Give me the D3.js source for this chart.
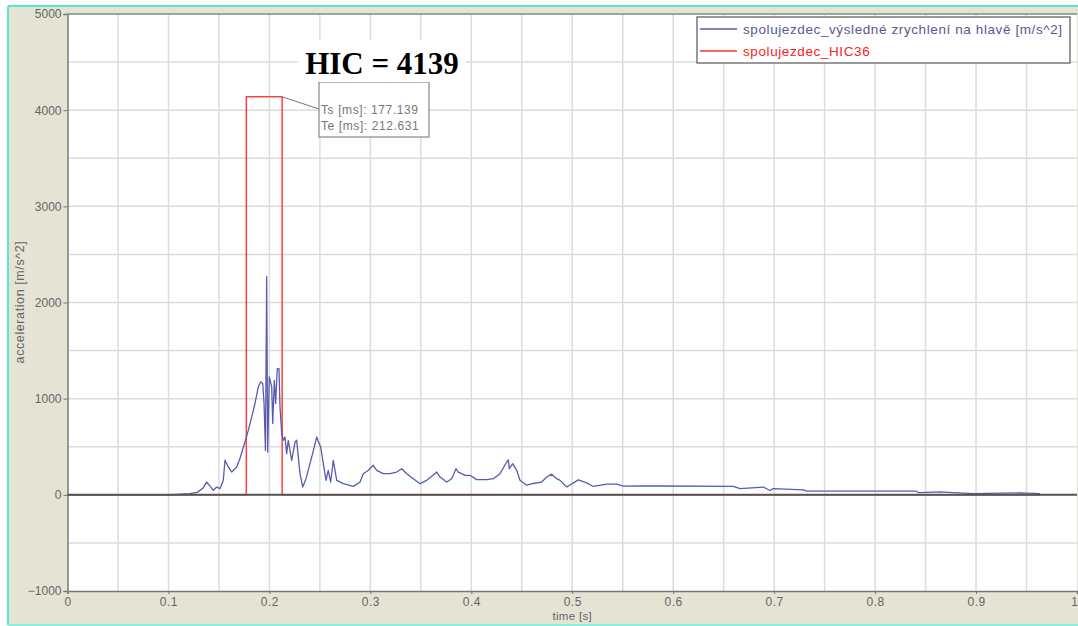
<!DOCTYPE html>
<html><head><meta charset="utf-8">
<script src="https://cdn.jsdelivr.net/npm/d3@7"></script>
<style>
html,body{margin:0;padding:0;background:#fff;}
svg{display:block;font-family:Arial,"Liberation Sans",sans-serif;}
</style></head>
<body>
<svg id="chart" width="1078" height="626"></svg>
<script>
// ---- data ----
const timeS = [0, 0.05, 0.1, 0.1213, 0.1283, 0.1342, 0.1379, 0.1412, 0.1444, 0.1478, 0.1511, 0.1543, 0.156, 0.1593, 0.1627, 0.1676, 0.1709, 0.1758, 0.1791, 0.1825, 0.1857, 0.189, 0.1914, 0.1934, 0.1947, 0.1961, 0.1973, 0.1983, 0.1999, 0.2023, 0.2033, 0.2049, 0.2062, 0.2078, 0.2095, 0.2105, 0.2122, 0.2138, 0.2154, 0.2171, 0.2187, 0.2221, 0.2254, 0.227, 0.2303, 0.233, 0.2363, 0.2419, 0.2469, 0.2482, 0.2508, 0.2534, 0.2561, 0.2583, 0.2607, 0.2633, 0.2667, 0.2732, 0.2831, 0.2898, 0.293, 0.298, 0.3029, 0.3063, 0.3128, 0.3195, 0.3261, 0.3311, 0.336, 0.3425, 0.3492, 0.3558, 0.364, 0.3657, 0.369, 0.3756, 0.3806, 0.3848, 0.3871, 0.3905, 0.3938, 0.3987, 0.4053, 0.4153, 0.4218, 0.4284, 0.4351, 0.4367, 0.4376, 0.441, 0.445, 0.4482, 0.4549, 0.4614, 0.4697, 0.4747, 0.4796, 0.4846, 0.4879, 0.4945, 0.506, 0.5143, 0.5209, 0.5341, 0.544, 0.5506, 0.5704, 0.5869, 0.6595, 0.6662, 0.6893, 0.6959, 0.6992, 0.7289, 0.7323, 0.8412, 0.8428, 0.8643, 0.8775, 0.8973, 0.9435, 0.9633];
const accel = [0, 0, 0, 12, 25, 70, 133, 90, 47, 81, 65, 150, 360, 290, 237, 290, 380, 550, 670, 810, 950, 1120, 1175, 1157, 950, 460, 2270, 445, 1226, 1122, 741, 1191, 949, 1313, 1313, 914, 637, 567, 601, 429, 567, 359, 549, 567, 220, 81, 168, 393, 601, 560, 497, 324, 151, 255, 133, 359, 151, 116, 88, 133, 220, 255, 307, 255, 220, 220, 237, 272, 220, 168, 116, 151, 220, 237, 185, 133, 168, 272, 237, 220, 203, 203, 158, 158, 168, 220, 341, 364, 272, 324, 255, 151, 100, 118, 133, 185, 215, 168, 150, 82, 155, 125, 87, 112, 112, 90, 92, 92, 87, 64, 81, 45, 64, 52, 38, 38, 23, 30, 23, 12, 20, 12];
const hicTime = [0, 0.177139, 0.177139, 0.212631, 0.212631, 0.9633];
const hicValue = [0, 0, 4139, 4139, 0, 0];
const xTicks = [0, 0.1, 0.2, 0.3, 0.4, 0.5, 0.6, 0.7, 0.8, 0.9, 1];
const xTickLabels = ["0", "0.1", "0.2", "0.3", "0.4", "0.5", "0.6", "0.7", "0.8", "0.9", "1"];
const yTicks = [-1000, 0, 1000, 2000, 3000, 4000, 5000];
const xGrid = [0.05,0.1,0.15,0.2,0.25,0.3,0.35,0.4,0.45,0.5,0.55,0.6,0.65,0.7,0.75,0.8,0.85,0.9,0.95];
const yGrid = [-500,0,500,1000,1500,2000,2500,3000,3500,4000,4500];
const seriesNames = ["spolujezdec_výsledné zrychlení na hlavě [m/s^2]", "spolujezdec_HIC36"];
const hicText = "HIC = 4139";
const annotLines = ["Ts [ms]: 177.139", "Te [ms]: 212.631"];

// ---- drawing ----
const svg = d3.select("#chart");
const L = 67.5, R = 1077, T = 14, B = 591;
const x = d3.scaleLinear().domain([0, 1]).range([L, R]);
const y = d3.scaleLinear().domain([-1000, 5000]).range([B, T]);

// panel background
svg.append("rect").attr("x", 8).attr("y", 6).attr("width", 1078).attr("height", 618)
  .attr("fill", "#e4e3d4").attr("stroke", "none");
svg.append("line").attr("x1", 8).attr("x2", 8).attr("y1", 6).attr("y2", 625).attr("stroke", "#5ee3d2").attr("stroke-width", 2);
svg.append("line").attr("x1", 8).attr("x2", 1078).attr("y1", 6).attr("y2", 6).attr("stroke", "#5ee3d2").attr("stroke-width", 2);
svg.append("line").attr("x1", 8).attr("x2", 1078).attr("y1", 625).attr("y2", 625).attr("stroke", "#8eeedd").attr("stroke-width", 2);

// plot area
svg.append("rect").attr("x", L).attr("y", T).attr("width", R - L).attr("height", B - T).attr("fill", "#fff");

// grid
const g = svg.append("g");
g.selectAll(".vg").data(xGrid).join("line")
  .attr("x1", d => x(d)).attr("x2", d => x(d)).attr("y1", T).attr("y2", B)
  .attr("stroke", "#dcdcdc").attr("stroke-width", 1.5);
g.selectAll(".hg").data(yGrid).join("line")
  .attr("x1", L).attr("x2", R).attr("y1", d => y(d)).attr("y2", d => y(d))
  .attr("stroke", "#dcdcdc").attr("stroke-width", 1.5);

// axes
const yAxis = d3.axisLeft(y).tickValues(yTicks).tickSize(4).tickPadding(2).tickFormat(d3.format("d"));
const yg = svg.append("g").attr("transform", `translate(${L},0)`).call(yAxis);
const xAxis = d3.axisBottom(x).tickValues(xTicks).tickSize(3).tickPadding(3).tickFormat((d, i) => xTickLabels[i]);
const xg = svg.append("g").attr("transform", `translate(0,${B})`).call(xAxis);
[yg, xg].forEach(a => {
  a.select(".domain").attr("stroke", "#777").attr("stroke-width", 1.5);
  a.selectAll(".tick line").attr("stroke", "#777");
  a.selectAll(".tick text").attr("fill", "#666").attr("font-size", 12).attr("font-family", "Arial, 'Liberation Sans', sans-serif");
});
xg.selectAll(".tick text").attr("letter-spacing", 0.5);
xg.selectAll(".tick text").filter(d => d === 1).attr("text-anchor", "end").attr("dx", 1);
// top border
svg.append("line").attr("x1", L).attr("x2", R).attr("y1", T).attr("y2", T).attr("stroke", "#888").attr("stroke-width", 1.5);

// axis titles
svg.append("text").attr("transform", `translate(24,302) rotate(-90)`)
  .attr("text-anchor", "middle").attr("font-size", 12.5).attr("letter-spacing", 0.6).attr("fill", "#666").text("acceleration [m/s^2]");
svg.append("text").attr("x", x(0.5)).attr("y", 620).attr("text-anchor", "middle")
  .attr("font-size", 11.5).attr("letter-spacing", 0.3).attr("fill", "#666").text("time [s]");

// HIC series
const hicPts = hicTime.map((t, i) => [t, hicValue[i]]);
svg.append("path").datum(hicPts)
  .attr("d", d3.line().x(d => x(d[0])).y(d => y(d[1])))
  .attr("fill", "none").attr("stroke", "#ff4040").attr("stroke-width", 1.5);

// acceleration series
const accPts = timeS.map((t, i) => [t, accel[i]]);
svg.append("path").datum(accPts)
  .attr("d", d3.line().x(d => x(d[0])).y(d => y(d[1])))
  .attr("fill", "none").attr("stroke", "#5a5ab0").attr("stroke-width", 1.3).attr("stroke-linejoin", "round");

// zero line
svg.append("line").attr("x1", L).attr("x2", R).attr("y1", y(0)).attr("y2", y(0))
  .attr("stroke", "#555").attr("stroke-width", 2);

// annotation box
const bx = 319, by = 82, bw = 110, bh = 55;
svg.append("line").attr("x1", x(hicTime[3])).attr("y1", y(hicValue[3]))
  .attr("x2", bx).attr("y2", 109).attr("stroke", "#777").attr("stroke-width", 1);
svg.append("rect").attr("x", bx).attr("y", by).attr("width", bw).attr("height", bh)
  .attr("fill", "#fff").attr("stroke", "#888").attr("stroke-width", 1.2);
svg.selectAll(".ann").data(annotLines).join("text")
  .attr("x", bx + 2).attr("y", (d, i) => 114 + i * 16)
  .attr("font-size", 12).attr("letter-spacing", 0.6).attr("fill", "#777").text(d => d);

// HIC label
svg.append("rect").attr("x", 298).attr("y", 40).attr("width", 168).attr("height", 42).attr("fill", "#fff");
svg.append("text").attr("x", 382).attr("y", 74).attr("text-anchor", "middle")
  .attr("font-family", "'Liberation Serif','Times New Roman',serif").attr("font-weight", "bold")
  .attr("font-size", 31).attr("fill", "#000").text(hicText);

// legend
const lg = svg.append("g");
lg.append("rect").attr("x", 697).attr("y", 17).attr("width", 373).attr("height", 46)
  .attr("fill", "#fff").attr("stroke", "#555").attr("stroke-width", 1.2);
const legColors = ["#5a5ab0", "#ff3030"];
const legText = ["#585890", "#ff2020"];
seriesNames.forEach((n, i) => {
  const yy = 29 + i * 22;
  lg.append("line").attr("x1", 700).attr("x2", 737).attr("y1", yy).attr("y2", yy)
    .attr("stroke", legColors[i]).attr("stroke-width", 1.3);
  lg.append("text").attr("x", 743).attr("y", yy + 4.5).attr("font-size", 13.5).attr("letter-spacing", 0.6)
    .attr("fill", legText[i]).text(n);
});
</script>
</body></html>
